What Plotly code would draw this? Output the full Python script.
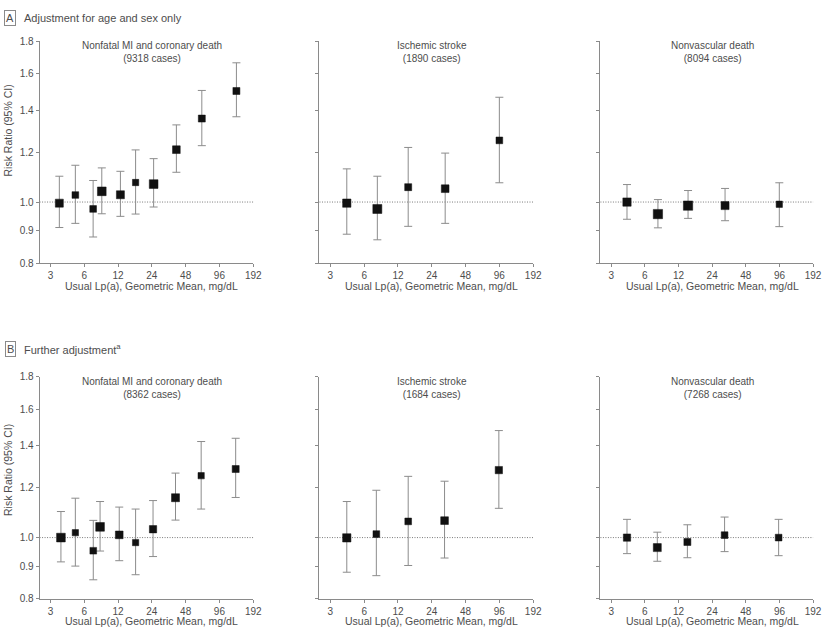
import math
import plotly.graph_objects as go

# ---------------- data ----------------
x_ticks = [3, 6, 12, 24, 48, 96, 192]
x_tick_labels = ["3", "6", "12", "24", "48", "96", "192"]
y_ticks = [0.8, 0.9, 1.0, 1.2, 1.4, 1.6, 1.8]
y_tick_labels = ["0.8", "0.9", "1.0", "1.2", "1.4", "1.6", "1.8"]

section_labels = ["A", "B"]
section_titles = ["Adjustment for age and sex only", "Further adjustment<sup>a</sup>"]
outcomes = ["Nonfatal MI and coronary death", "Ischemic stroke", "Nonvascular death"]
cases_a = [9318, 1890, 8094]
cases_b = [8362, 1684, 7268]

a_chd_x = [3.6, 5.0, 7.2, 8.6, 12.6, 17.2, 24.9, 39.7, 66.9, 136]
a_chd_rr = [0.996, 1.026, 0.975, 1.040, 1.027, 1.074, 1.068, 1.211, 1.357, 1.501]
a_chd_lo = [0.911, 0.925, 0.880, 0.958, 0.949, 0.957, 0.982, 1.115, 1.229, 1.366]
a_chd_hi = [1.099, 1.144, 1.082, 1.133, 1.119, 1.210, 1.172, 1.326, 1.504, 1.664]

a_stroke_x = [4.2, 7.86, 14.8, 31.6, 96]
a_stroke_rr = [0.996, 0.975, 1.056, 1.050, 1.253]
a_stroke_lo = [0.889, 0.871, 0.915, 0.925, 1.073]
a_stroke_hi = [1.129, 1.099, 1.221, 1.196, 1.467]

a_nonvasc_x = [4.15, 7.85, 14.6, 31.3, 95.7]
a_nonvasc_rr = [1.000, 0.957, 0.987, 0.987, 0.992]
a_nonvasc_lo = [0.939, 0.910, 0.942, 0.934, 0.914]
a_nonvasc_hi = [1.066, 1.009, 1.043, 1.051, 1.073]

b_chd_x = [3.72, 5.0, 7.22, 8.3, 12.3, 17.2, 24.6, 39.0, 66, 134]
b_chd_rr = [1.000, 1.018, 0.953, 1.040, 1.010, 0.982, 1.031, 1.157, 1.254, 1.285]
b_chd_lo = [0.915, 0.901, 0.857, 0.952, 0.919, 0.873, 0.933, 1.066, 1.110, 1.158]
b_chd_hi = [1.100, 1.155, 1.065, 1.141, 1.118, 1.110, 1.145, 1.266, 1.421, 1.438]

b_stroke_x = [4.2, 7.7, 14.8, 31.2, 95]
b_stroke_rr = [0.999, 1.013, 1.061, 1.064, 1.280]
b_stroke_lo = [0.881, 0.870, 0.903, 0.928, 1.113]
b_stroke_hi = [1.141, 1.189, 1.251, 1.229, 1.479]

b_nonvasc_x = [4.15, 7.75, 14.4, 31.0, 94.4]
b_nonvasc_rr = [1.000, 0.964, 0.984, 1.009, 1.000]
b_nonvasc_lo = [0.943, 0.917, 0.929, 0.950, 0.936]
b_nonvasc_hi = [1.069, 1.020, 1.048, 1.078, 1.069]

# ---------------- styling ----------------
W, H = 830, 636
FONT = "Liberation Sans, Arial, sans-serif"
TXT = "#4d4d4d"
AXC = "#8a8a8a"
ERRC = "#8c8c8c"
SQC = "#111111"

# marker sizes (style, px) per panel
sq_sizes = {
    (0, 0): [8, 6.7, 6.7, 8.7, 8, 6.3, 8.7, 7.7, 7, 7],
    (0, 1): [8.3, 9, 7, 7.7, 6.7],
    (0, 2): [8.3, 9.3, 9.3, 8, 6.3],
    (1, 0): [8.7, 6.3, 6.7, 8.7, 7.7, 6.3, 7.3, 8, 6.3, 7],
    (1, 1): [8.3, 6.7, 6.7, 7.7, 7.3],
    (1, 2): [7.3, 8, 7, 6.7, 6.7],
}

panels = {
    (0, 0): (a_chd_x, a_chd_rr, a_chd_lo, a_chd_hi),
    (0, 1): (a_stroke_x, a_stroke_rr, a_stroke_lo, a_stroke_hi),
    (0, 2): (a_nonvasc_x, a_nonvasc_rr, a_nonvasc_lo, a_nonvasc_hi),
    (1, 0): (b_chd_x, b_chd_rr, b_chd_lo, b_chd_hi),
    (1, 1): (b_stroke_x, b_stroke_rr, b_stroke_lo, b_stroke_hi),
    (1, 2): (b_nonvasc_x, b_nonvasc_rr, b_nonvasc_lo, b_nonvasc_hi),
}

col_px = [(40, 256), (323, 539), (607, 822)]
row_px = [(36, 262), (378, 604)]


def px_x(p):
    return p / W


def px_y(p):
    return 1 - p / H


fig = go.Figure()
layout = dict(
    width=W, height=H,
    margin=dict(l=0, r=0, t=0, b=0),
    paper_bgcolor="white", plot_bgcolor="white",
    showlegend=False,
    font=dict(family=FONT, size=10, color=TXT),
)
annotations = []
shapes = []

x_range = [math.log10(3) - 0.322 * math.log10(2), math.log10(192)]
y_range = [math.log10(0.8), math.log10(1.8)]

for r in range(2):
    for c in range(3):
        idx = r * 3 + c + 1
        xa = "xaxis" if idx == 1 else f"xaxis{idx}"
        ya = "yaxis" if idx == 1 else f"yaxis{idx}"
        xr = "x" if idx == 1 else f"x{idx}"
        yr = "y" if idx == 1 else f"y{idx}"
        x0p, x1p = col_px[c]
        y0p, y1p = row_px[r]
        layout[xa] = dict(
            domain=[px_x(x0p), px_x(x1p)], anchor=yr, type="log", range=x_range,
            tickvals=x_ticks, ticktext=x_tick_labels, ticks="outside", ticklen=3,
            tickcolor=AXC, showline=True, linecolor=AXC, linewidth=1,
            showgrid=False, zeroline=False, tickfont=dict(size=10, color=TXT),
            ticklabeloverflow="allow", fixedrange=True,
        )
        layout[ya] = dict(
            domain=[px_y(y1p), px_y(y0p)], anchor=xr, type="log", range=y_range,
            tickvals=y_ticks, ticktext=y_tick_labels, ticks="outside", ticklen=3,
            tickcolor=AXC, showline=True, linecolor=AXC, linewidth=1,
            showgrid=False, zeroline=False, showticklabels=(c == 0),
            tickfont=dict(size=10, color=TXT), fixedrange=True,
        )
        xs, rr, lo, hi = panels[(r, c)]
        fig.add_trace(go.Scatter(
            x=xs, y=rr, mode="markers", xaxis=xr, yaxis=yr,
            marker=dict(symbol="square", size=sq_sizes[(r, c)], color=SQC,
                        opacity=1, line=dict(width=0.5, color=SQC)),
            error_y=dict(type="data", symmetric=False,
                         array=[h - v for h, v in zip(hi, rr)],
                         arrayminus=[v - l for v, l in zip(rr, lo)],
                         color=ERRC, thickness=1, width=4),
            hoverinfo="skip",
        ))
        # reference line at 1.0
        shapes.append(dict(type="line", xref=f"{xr} domain", yref=yr,
                           x0=0, x1=1, y0=1.0, y1=1.0, layer="below",
                           line=dict(color="#7a7a7a", width=1, dash="1px,1.5px")))
        # panel title
        cases = (cases_a if r == 0 else cases_b)[c]
        annotations.append(dict(
            text=f"{outcomes[c]}<br>({cases} cases)", xref=xr, yref="paper",
            x=math.log10(24), y=px_y(y0p - 3), xanchor="center", yanchor="top",
            showarrow=False, align="center", font=dict(size=10, color=TXT),
        ))
        # x axis title
        annotations.append(dict(
            text="Usual Lp(a), Geometric Mean, mg/dL", xref=xr, yref="paper",
            x=math.log10(24), y=px_y(y1p + 23), xanchor="center", yanchor="middle",
            showarrow=False, font=dict(size=10.5, color=TXT),
        ))
    # y axis title
    annotations.append(dict(
        text="Risk Ratio (95% CI)", xref="paper", yref="paper",
        x=px_x(8), y=px_y(127 if r == 0 else 473), textangle=-90,
        xanchor="center", yanchor="middle", showarrow=False,
        font=dict(size=10.5, color=TXT),
    ))
    # section header
    hy = 12 if r == 0 else 350
    annotations.append(dict(
        text=section_labels[r], xref="paper", yref="paper",
        x=px_x(10.5), y=px_y(hy), xanchor="center", yanchor="middle",
        showarrow=False, font=dict(size=11, color=TXT),
        bordercolor=AXC, borderwidth=1, borderpad=1,
    ))
    annotations.append(dict(
        text=section_titles[r], xref="paper", yref="paper",
        x=px_x(22), y=px_y(hy), xanchor="left", yanchor="middle",
        showarrow=False, font=dict(size=11, color=TXT),
    ))

layout["annotations"] = annotations
layout["shapes"] = shapes
fig.update_layout(**layout)
fig.write_html(
    "out.html",
    config={"displayModeBar": False},
    post_script="document.body.style.margin='0';document.body.style.overflow='hidden';",
)
